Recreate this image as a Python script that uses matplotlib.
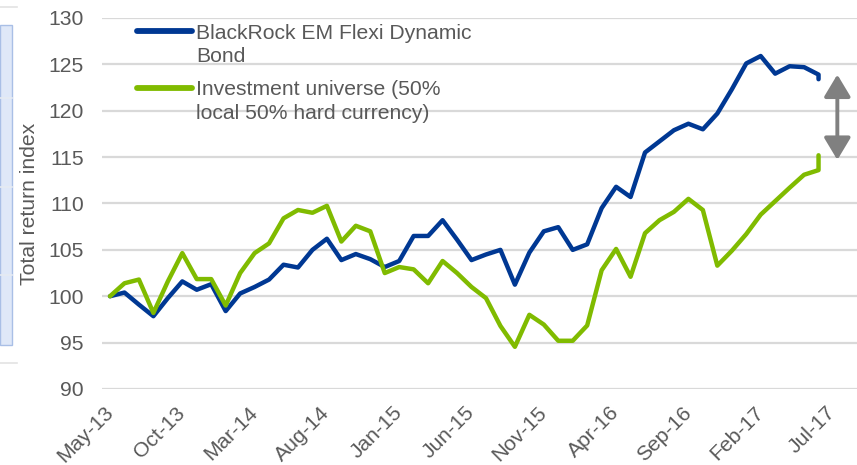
import matplotlib
matplotlib.use("Agg")
import matplotlib.pyplot as plt
from matplotlib.lines import Line2D
from matplotlib.patches import Rectangle
from matplotlib.offsetbox import HPacker, DrawingArea, TextArea

# ---------------- data ----------------
# month stamps of the observations (last month has two readings)
dates = ["2013-05", "2013-06", "2013-07", "2013-08", "2013-09", "2013-10", "2013-11", "2013-12",
         "2014-01", "2014-02", "2014-03", "2014-04", "2014-05", "2014-06", "2014-07", "2014-08",
         "2014-09", "2014-10", "2014-11", "2014-12", "2015-01", "2015-02", "2015-03", "2015-04",
         "2015-05", "2015-06", "2015-07", "2015-08", "2015-09", "2015-10", "2015-11", "2015-12",
         "2016-01", "2016-02", "2016-03", "2016-04", "2016-05", "2016-06", "2016-07", "2016-08",
         "2016-09", "2016-10", "2016-11", "2016-12", "2017-01", "2017-02", "2017-03", "2017-04",
         "2017-05", "2017-06", "2017-06"]

fund = [100.0, 100.4, 99.1, 97.85, 99.8, 101.6, 100.7, 101.3, 98.4, 100.3,
        101.0, 101.8, 103.4, 103.1, 105.0, 106.2, 103.9, 104.55, 104.0, 103.15,
        103.8, 106.5, 106.5, 108.2, 106.1, 103.9, 104.5, 105.0, 101.25, 104.7,
        107.0, 107.45, 105.0, 105.6, 109.5, 111.8, 110.7, 115.5, 116.7, 117.9,
        118.6, 118.0, 119.7, 122.3, 125.1, 125.9, 124.0, 124.8, 124.7, 123.9,
        123.4]

universe = [100.0, 101.4, 101.8, 98.2, 101.6, 104.65, 101.85, 101.85, 99.0, 102.5,
            104.65, 105.7, 108.4, 109.3, 109.0, 109.75, 105.9, 107.6, 107.0, 102.5,
            103.15, 102.9, 101.4, 103.8, 102.5, 101.0, 99.8, 96.8, 94.55, 98.0,
            96.95, 95.2, 95.2, 96.85, 102.8, 105.1, 102.1, 106.8, 108.2, 109.1,
            110.5, 109.3, 103.3, 104.9, 106.7, 108.8, 110.25, 111.7, 113.1, 113.6,
            115.2]

series_names = ["BlackRock EM Flexi Dynamic\nBond",
                "Investment universe (50%\nlocal 50% hard currency)"]

tick_labels = ["May-13", "Oct-13", "Mar-14", "Aug-14", "Jan-15", "Jun-15",
               "Nov-15", "Apr-16", "Sep-16", "Feb-17", "Jul-17"]
y_ticks = [90, 95, 100, 105, 110, 115, 120, 125, 130]

# ---------------- helpers ----------------
MON = {"Jan": 1, "Feb": 2, "Mar": 3, "Apr": 4, "May": 5, "Jun": 6,
       "Jul": 7, "Aug": 8, "Sep": 9, "Oct": 10, "Nov": 11, "Dec": 12}


def idx_from_iso(s):
    y, m = s.split("-")
    return (int(y) - 2013) * 12 + int(m) - 5


def idx_from_label(s):
    m, y = s.split("-")
    return (2000 + int(y) - 2013) * 12 + MON[m] - 5


x = [idx_from_iso(d) for d in dates]
tick_pos = [idx_from_label(t) for t in tick_labels]

BLUE = "#003893"
GREEN = "#80bb00"
TXT = "#595959"
GRID = "#d9d9d9"
FS = 15.2

plt.rcParams["font.family"] = ["Liberation Sans", "DejaVu Sans"]

W, H = 857, 465
fig = plt.figure(figsize=(W / 100, H / 100), dpi=100)

# axes placement (plot area runs off the right edge, as in the reference)
left_px, right_px, top_px, bot_px = 102, 857, 18, 389
ax = fig.add_axes([left_px / W, 1 - bot_px / H, (right_px - left_px) / W, (bot_px - top_px) / H])
px_per_month = 14.46
x0_px = 110
ax.set_xlim((left_px - x0_px) / px_per_month, (right_px - x0_px) / px_per_month)
ax.set_ylim(90, 130)

for s in ax.spines.values():
    s.set_visible(False)
ax.set_yticks(y_ticks)
ax.yaxis.grid(True, color=GRID, lw=1.6)
ax.set_axisbelow(True)
ax.tick_params(axis="y", length=0, pad=13.0, labelsize=FS, labelcolor=TXT)
ax.set_xticks(tick_pos)
ax.set_xticklabels(tick_labels)
ax.tick_params(axis="x", length=0, pad=15, labelsize=FS, labelcolor=TXT)
for lab in ax.get_xticklabels():
    lab.set_rotation(45)
    lab.set_ha("right")
    lab.set_va("center")
    lab.set_rotation_mode("anchor")

ax.set_ylabel("Total return index", fontsize=FS, color=TXT, labelpad=7)

l1, = ax.plot(x, fund, color=BLUE, lw=3.2, solid_joinstyle="round", solid_capstyle="round")
l2, = ax.plot(x, universe, color=GREEN, lw=3.2, solid_joinstyle="round", solid_capstyle="round")

# gap arrow between the two end values
ax.annotate("", xy=(x[-1] + 1.3, universe[-1] - 0.5), xytext=(x[-1] + 1.3, fund[-1] + 0.5),
            arrowprops=dict(arrowstyle="<|-|>,head_length=0.45,head_width=0.27",
                            color="#808080", lw=2.8, mutation_scale=30,
                            shrinkA=0, shrinkB=0))

leg = ax.legend([l1, l2], series_names, loc="upper left",
                bbox_to_anchor=((137 - left_px) / (right_px - left_px), 0.985),
                frameon=False, fontsize=FS, labelcolor=TXT,
                handlelength=2.62, handletextpad=0.19, labelspacing=0.66,
                borderaxespad=0, borderpad=0)
for t in leg.get_texts():
    t.set_linespacing(1.32)
for hp in leg.findobj(match=HPacker):
    ch = hp.get_children()
    if len(ch) == 2 and isinstance(ch[0], DrawingArea) and isinstance(ch[1], TextArea):
        hp.align = "top"
for ln in leg.get_lines():
    ln.set_linewidth(4.2)

# sliver of a neighbouring panel visible at the left edge
fig.add_artist(Rectangle((0, 1 - 345 / H), 12 / W, (345 - 25) / H, transform=fig.transFigure,
                         facecolor="#dfe8f8", edgecolor="#a9bfe6", lw=1.0))
for yy in [98, 187, 275]:
    fig.add_artist(Line2D([0, 12 / W], [1 - yy / H] * 2, transform=fig.transFigure,
                          color="#e6ebf2", lw=1.2))
for yy in [7, 363]:
    fig.add_artist(Line2D([0, 17 / W], [1 - yy / H] * 2, transform=fig.transFigure,
                          color="#e3e3e3", lw=1.2))

fig.savefig("out.png", dpi=100)
